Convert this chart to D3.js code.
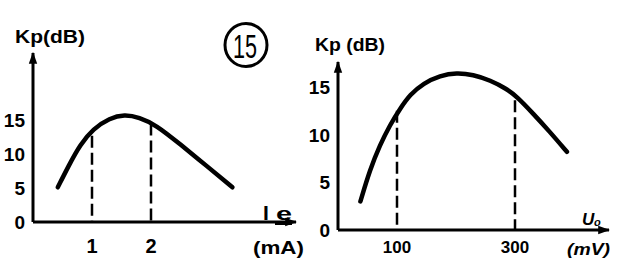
<!DOCTYPE html>
<html>
<head>
<meta charset="utf-8">
<script src="https://cdn.jsdelivr.net/npm/d3@7"></script>
<style>
  body { margin: 0; background: #fff; }
  svg { display: block; }
  text { font-family: "Liberation Sans", Arial, sans-serif; font-weight: bold; fill: #000; }
</style>
</head>
<body>
<svg width="624" height="274"></svg>
<script>
// left panel: Kp vs Ie
const ieValues = [0.42, 0.6, 0.8, 1.02, 1.3, 1.55, 1.8, 2.08, 2.5, 2.95, 3.38];
const kpLeft = [5.1, 8.2, 11.4, 13.7, 15.3, 15.8, 15.4, 14.3, 11.4, 8.2, 5.1];
const leftXTicks = [1, 2];
const leftDash = [[1, 12.7], [2, 14.5]];

// right panel: Kp vs U0
const u0Values = [38, 54, 71, 88, 105, 122, 145, 173, 201, 229, 258, 286, 303, 331, 359, 388];
const kpRight = [3.0, 6.3, 8.9, 11.0, 12.7, 14.2, 15.4, 16.2, 16.5, 16.3, 15.7, 14.8, 14.0, 12.2, 10.3, 8.2];
const rightXTicks = [100, 300];
const rightDash = [[100, 12.5], [300, 13.6]];

const yTicks = [0, 5, 10, 15];

const svg = d3.select('svg');

svg.append('defs').append('marker')
  .attr('id', 'arr')
  .attr('viewBox', '0 0 10 10')
  .attr('refX', 9).attr('refY', 5)
  .attr('markerWidth', 4).attr('markerHeight', 4)
  .attr('orient', 'auto')
  .append('path').attr('d', 'M0,1.5L10,5L0,8.5Z').attr('fill', '#000');

function panel(o) {
  const x = d3.scaleLinear().domain(o.xDomain).range(o.xRange);
  const y = d3.scaleLinear().domain([0, 15]).range(o.yRange);
  const g = svg.append('g');

  // axes
  g.append('line')
    .attr('x1', x(0)).attr('y1', y(0))
    .attr('x2', x(0)).attr('y2', o.yTop)
    .attr('stroke', '#000').attr('stroke-width', 3)
    .attr('marker-end', 'url(#arr)');
  g.append('line')
    .attr('x1', x(0)).attr('y1', y(0))
    .attr('x2', o.xEnd).attr('y2', y(0))
    .attr('stroke', '#000').attr('stroke-width', 3)
    .attr('marker-end', 'url(#arr)');

  // y tick labels
  g.selectAll('.yt')
    .data(yTicks)
    .join('text')
    .attr('x', x(0) - 8)
    .attr('y', (d) => y(d) + 7)
    .attr('text-anchor', 'end')
    .attr('font-size', 19)
    .text((d) => d);

  // x tick labels
  g.selectAll('.xt')
    .data(o.xTicks)
    .join('text')
    .attr('x', (d) => x(d))
    .attr('y', o.xTickY)
    .attr('text-anchor', 'middle')
    .attr('font-size', o.xTickSize)
    .text((d) => d);

  // dashed guides
  g.selectAll('.dash')
    .data(o.dash)
    .join('line')
    .attr('x1', (d) => x(d[0])).attr('x2', (d) => x(d[0]))
    .attr('y1', (d) => y(d[1])).attr('y2', y(0))
    .attr('stroke', '#000').attr('stroke-width', 2.5)
    .attr('stroke-dasharray', '12,5');

  // curve
  const line = d3.line()
    .x((d) => x(d[0]))
    .y((d) => y(d[1]))
    .curve(d3.curveBasis);
  g.append('path')
    .datum(d3.zip(o.xs, o.ys))
    .attr('d', line)
    .attr('fill', 'none')
    .attr('stroke', '#000')
    .attr('stroke-width', 4.5)
    .attr('stroke-linecap', 'round');

  // y label
  g.append('text')
    .attr('x', o.kpX).attr('y', o.kpY)
    .attr('font-size', 18)
    .attr('textLength', 70)
    .attr('lengthAdjust', 'spacingAndGlyphs')
    .text(o.kpText);
}

panel({
  xDomain: [0, 1], xRange: [33, 92],
  yRange: [222, 120], yTop: 53, xEnd: 296,
  xTicks: leftXTicks, xTickY: 253, xTickSize: 20,
  dash: leftDash, xs: ieValues, ys: kpLeft,
  kpX: 15, kpY: 43, kpText: 'Kp(dB)'
});

panel({
  xDomain: [0, 100], xRange: [338, 397],
  yRange: [230, 87], yTop: 62, xEnd: 609,
  xTicks: rightXTicks, xTickY: 253, xTickSize: 17,
  dash: rightDash, xs: u0Values, ys: kpRight,
  kpX: 315, kpY: 51, kpText: 'Kp (dB)'
});

// axis names
svg.append('text').attr('x', 263).attr('y', 220).attr('font-size', 21)
  .attr('font-family', '"Liberation Serif", serif').text('I');
svg.append('text').attr('x', 276).attr('y', 220).attr('font-size', 19)
  .attr('textLength', 16).attr('lengthAdjust', 'spacingAndGlyphs').text('e');
svg.append('line').attr('x1', 275).attr('x2', 292).attr('y1', 224).attr('y2', 224)
  .attr('stroke', '#000').attr('stroke-width', 2);
svg.append('text').attr('x', 253).attr('y', 254).attr('font-size', 19)
  .attr('textLength', 51).attr('lengthAdjust', 'spacingAndGlyphs').text('(mA)');

svg.append('text').attr('x', 582).attr('y', 225).attr('font-size', 17)
  .attr('font-style', 'italic').text('U');
svg.append('text').attr('x', 594).attr('y', 226).attr('font-size', 11)
  .attr('font-style', 'italic').text('o');
svg.append('text').attr('x', 567).attr('y', 255).attr('font-size', 17)
  .attr('font-style', 'italic')
  .attr('textLength', 43).attr('lengthAdjust', 'spacingAndGlyphs').text('(mV)');

// circled number
svg.append('ellipse').attr('cx', 246).attr('cy', 45).attr('rx', 21).attr('ry', 21.5)
  .attr('fill', 'none').attr('stroke', '#000').attr('stroke-width', 3);
svg.append('text').attr('x', 233).attr('y', 58)
  .attr('font-size', 34).style('font-weight', 'normal')
  .attr('textLength', 24).attr('lengthAdjust', 'spacingAndGlyphs').text('15');
</script>
</body>
</html>
